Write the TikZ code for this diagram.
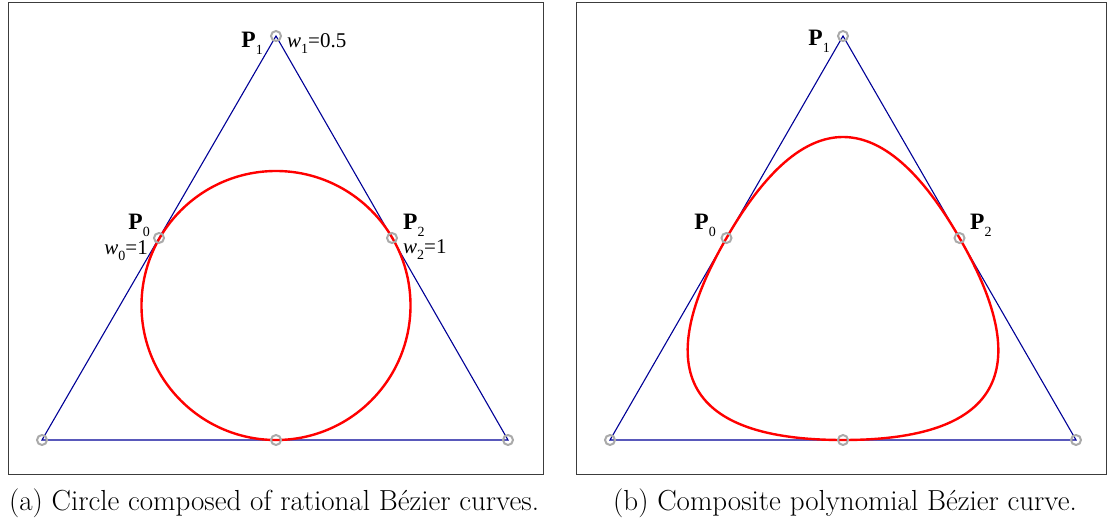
\documentclass[tikz,border=0pt]{standalone}
\usepackage{fontspec}
\usetikzlibrary{calc}
\newfontfamily\tms{Liberation Serif}
\begin{document}
\begin{tikzpicture}[x=1pt,y=-1pt,
  tri/.style={draw={rgb,255:red,0;green,0;blue,150},line width=1.1pt},
  curve/.style={draw=red,line width=2.4pt},
  pt/.style={draw={rgb,255:red,170;green,170;blue,170},line width=2pt},
  frame/.style={draw={rgb,255:red,60;green,60;blue,60},line width=0.9pt},
  lab/.style={inner sep=0pt,font=\tms\fontsize{23.5}{23.5}\selectfont},
  wlab/.style={inner sep=0pt,font=\tms\fontsize{21}{21}\selectfont},
  captext/.style={inner sep=0pt,font=\fontsize{29}{34}\selectfont}]
\newcommand\mysub[1]{\raisebox{-0.28em}{\fontsize{14}{14}\selectfont #1}}
\useasboundingbox (0,0) rectangle (1107,518);
\draw[frame] (8,2) rectangle (543,474);
\draw[frame] (576.5,2) rectangle (1106.5,474);
% left panel
\coordinate (A0) at (42,440);
\coordinate (A1) at (276,36);
\coordinate (A2) at (508,440);
\coordinate (AP0) at (159,238);
\coordinate (AP2) at (392,238);
\coordinate (AB) at (276,440);
\coordinate (AC) at (276,305.5);
\draw[tri] (A0) -- (A1) -- (A2) -- cycle;
\draw[curve] (AC) circle[radius=134.5];
\foreach \p in {A0,A1,A2,AP0,AP2,AB} \draw[pt] (\p) circle[radius=5];
\node[lab,anchor=base east] (lp1) at (263,48) {\textbf{P}\mysub{1}};
\node[wlab,anchor=base west] (lw1) at (287,48) {\textit{w}\mysub{1}=0.5};
\node[lab,anchor=base east] (lp0) at (150,230) {\textbf{P}\mysub{0}};
\node[wlab,anchor=base east] (lw0) at (148,255) {\textit{w}\mysub{0}=1};
\node[lab,anchor=base west] (lp2) at (403,230) {\textbf{P}\mysub{2}};
\node[wlab,anchor=base west] (lw2) at (403,254) {\textit{w}\mysub{2}=1};
% right panel
\coordinate (B0) at (610,440);
\coordinate (B1) at (843,36);
\coordinate (B2) at (1076,440);
\coordinate (BP0) at (726.5,238);
\coordinate (BP2) at (959.5,238);
\coordinate (BB) at (843,440);
\draw[tri] (B0) -- (B1) -- (B2) -- cycle;
\draw[curve] (BP0) .. controls ($(BP0)!2/3!(B1)$) and ($(BP2)!2/3!(B1)$) .. (BP2)
  .. controls ($(BP2)!2/3!(B2)$) and ($(BB)!2/3!(B2)$) .. (BB)
  .. controls ($(BB)!2/3!(B0)$) and ($(BP0)!2/3!(B0)$) .. (BP0) -- cycle;
\foreach \p in {B0,B1,B2,BP0,BP2,BB} \draw[pt] (\p) circle[radius=5];
\node[lab,anchor=base east] (rp1) at (830,46) {\textbf{P}\mysub{1}};
\node[lab,anchor=base east] (rp0) at (716,230) {\textbf{P}\mysub{0}};
\node[lab,anchor=base west] (rp2) at (970,230) {\textbf{P}\mysub{2}};
% captions
\node[captext,anchor=base] (capa) at (274,510) {(a) Circle composed of rational B\'ezier curves.};
\node[captext,anchor=base] (capb) at (845,510) {(b) Composite polynomial B\'ezier curve.};
\end{tikzpicture}
\end{document}
